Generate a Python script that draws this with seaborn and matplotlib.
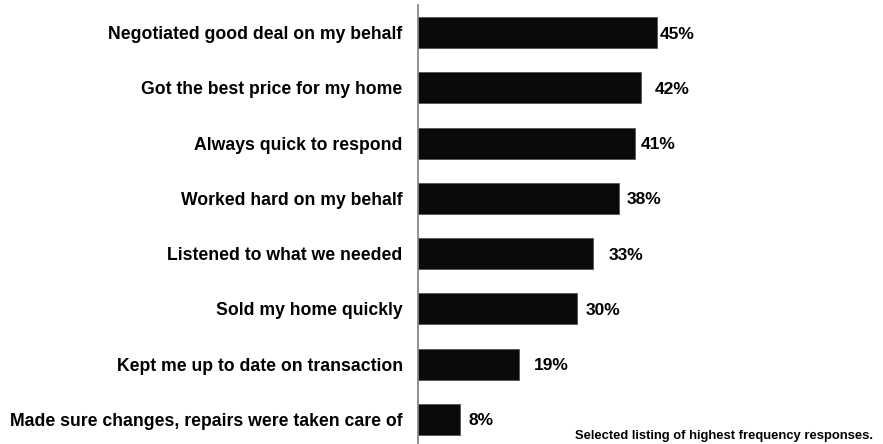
import matplotlib
matplotlib.use("Agg")
import matplotlib.pyplot as plt
import seaborn as sns
import pandas as pd
import numpy as np

categories = [
    "Negotiated good deal on my behalf",
    "Got the best price for my home",
    "Always quick to respond",
    "Worked hard on my behalf",
    "Listened to what we needed",
    "Sold my home quickly",
    "Kept me up to date on transaction",
    "Made sure changes, repairs were taken care of",
]
values = [45, 42, 41, 38, 33, 30, 19, 8]
value_labels = ["45%", "42%", "41%", "38%", "33%", "30%", "19%", "8%"]
footnote = "Selected listing of highest frequency responses."

# horizontal gap (points) between each bar end and its label
label_pad = [2, 10, 4, 5, 11, 6, 11, 6]

sns.set_theme(style="white")
plt.rcParams["font.family"] = ["Liberation Sans", "DejaVu Sans"]
plt.rcParams["text.color"] = "black"
plt.rcParams["ytick.labelcolor"] = "black"

df = pd.DataFrame({"category": categories, "value": values})

fig = plt.figure(figsize=(8.83, 4.44), dpi=100)
ax = fig.add_axes([418 / 883, -3 / 444, 1 - 418 / 883, 442 / 444])

sns.barplot(data=df, y="category", x="value", orient="h", color="#0a0a0a",
            edgecolor="#555555", linewidth=0.6, width=0.56, saturation=1, ax=ax)

ax.set_xlim(0, 87.7)
ax.set_ylim(len(categories) - 0.5, -0.5)
ax.set_xlabel("")
ax.set_ylabel("")
ax.set_xticks([])

for s in ["top", "right", "bottom"]:
    ax.spines[s].set_visible(False)
ax.spines["left"].set_color("#808080")
ax.spines["left"].set_linewidth(1.2)

ax.set_yticks(np.arange(len(categories)))
ax.set_yticklabels(categories, fontsize=12.7, fontweight="bold", color="black")
ax.tick_params(axis="y", which="major", length=0, pad=11)
ax.set_yticks(np.arange(-0.5, len(categories) + 0.5, 1), minor=True)
ax.tick_params(axis="y", which="minor", length=5, width=1.2, color="#808080", direction="out")

for i, (v, lab, pad) in enumerate(zip(values, value_labels, label_pad)):
    ax.annotate(lab, xy=(v, i), xytext=(pad, -1), textcoords="offset points",
                ha="left", va="center", fontsize=12.5, fontweight="bold", color="black")

fig.text(873 / 883, 1 - 436 / 444, footnote, ha="right", va="center",
         fontsize=9.4, fontweight="bold", color="black")

fig.savefig("out.png", dpi=100)
